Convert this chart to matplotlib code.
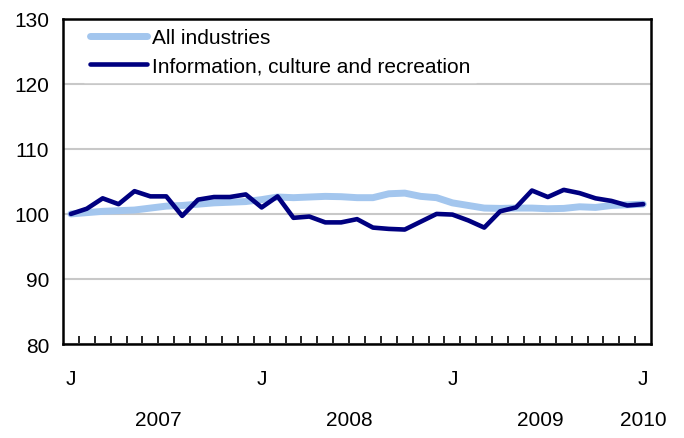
import matplotlib
matplotlib.use('Agg')
import matplotlib.pyplot as plt
import matplotlib.transforms as mtransforms

plt.rcParams['font.family'] = ['Liberation Sans', 'DejaVu Sans']

# ------------------------------------------------------------------
# monthly index, Jan 2007 = 100, Jan 2007 .. Jan 2010

all_industries = [100.0, 100.2, 100.4, 100.5, 100.6, 100.9, 101.2, 101.3, 101.5, 101.7, 101.8, 101.9,
                  102.2, 102.6, 102.5, 102.6, 102.7, 102.65, 102.5, 102.5, 103.1, 103.2, 102.7, 102.5,
                  101.7, 101.3, 100.9, 100.85, 100.9, 100.9, 100.8, 100.85, 101.1, 101.0, 101.3, 101.4,
                  101.5]
info_culture = [100.0, 100.8, 102.4, 101.5, 103.5, 102.7, 102.7, 99.7, 102.2, 102.6, 102.6, 103.0,
                101.0, 102.7, 99.4, 99.6, 98.7, 98.7, 99.2, 97.9, 97.7, 97.6, 98.8, 100.0,
                99.9, 99.0, 97.9, 100.4, 101.0, 103.6, 102.6, 103.7, 103.2, 102.4, 102.0, 101.3,
                101.5]

month_labels = ['J', 'J', 'J', 'J']
month_pos = [0, 12, 24, 36]
years = ['2007', '2008', '2009', '2010']
year_pos = [5.5, 17.5, 29.5, 36]
y_ticks = [80, 90, 100, 110, 120, 130]

fs = 15

# ------------------------------------------------------------------

fig = plt.figure(figsize=(6.84, 4.39), dpi=100)
ax = fig.add_axes([0.092, 0.214, 0.860, 0.741])

x = list(range(len(all_industries)))
ax.plot(x, all_industries, color='#a3c6ee', linewidth=5, label='All industries',
        solid_capstyle='round', zorder=3)
ax.plot(x, info_culture, color='#000080', linewidth=3.3, label='Information, culture and recreation',
        solid_capstyle='round', zorder=4)

ax.set_xlim(-0.5, len(x) - 0.5)
ax.set_ylim(80, 130)
ax.set_yticks(y_ticks)
ax.set_yticklabels([str(v) for v in y_ticks], fontsize=fs)
ax.tick_params(axis='y', length=0, pad=10)

ax.set_xticks(month_pos)
ax.set_xticklabels(month_labels, fontsize=fs)
ax.tick_params(axis='x', which='major', length=0, pad=18)
ax.set_xticks([i + 0.5 for i in range(len(x) - 1)], minor=True)
ax.tick_params(axis='x', which='minor', direction='in', length=6, width=1.2, color='black')

ax.yaxis.grid(True, color='#c8c8c8', linewidth=1.5)
ax.set_axisbelow(True)

for s in ax.spines.values():
    s.set_linewidth(1.8)
    s.set_color('black')

trans = mtransforms.blended_transform_factory(ax.transData, ax.transAxes)
for yr, p in zip(years, year_pos):
    ax.text(p, -0.232, yr, transform=trans, ha='center', va='center', fontsize=fs)

leg = ax.legend(loc='upper left', bbox_to_anchor=(0.036, 0.99), borderaxespad=0,
                fontsize=fs, handlelength=2.7, handletextpad=0.25, labelspacing=0.45,
                borderpad=0.3, frameon=True, fancybox=False, framealpha=1,
                edgecolor='white', facecolor='white')

fig.savefig('out.png', dpi=100)
